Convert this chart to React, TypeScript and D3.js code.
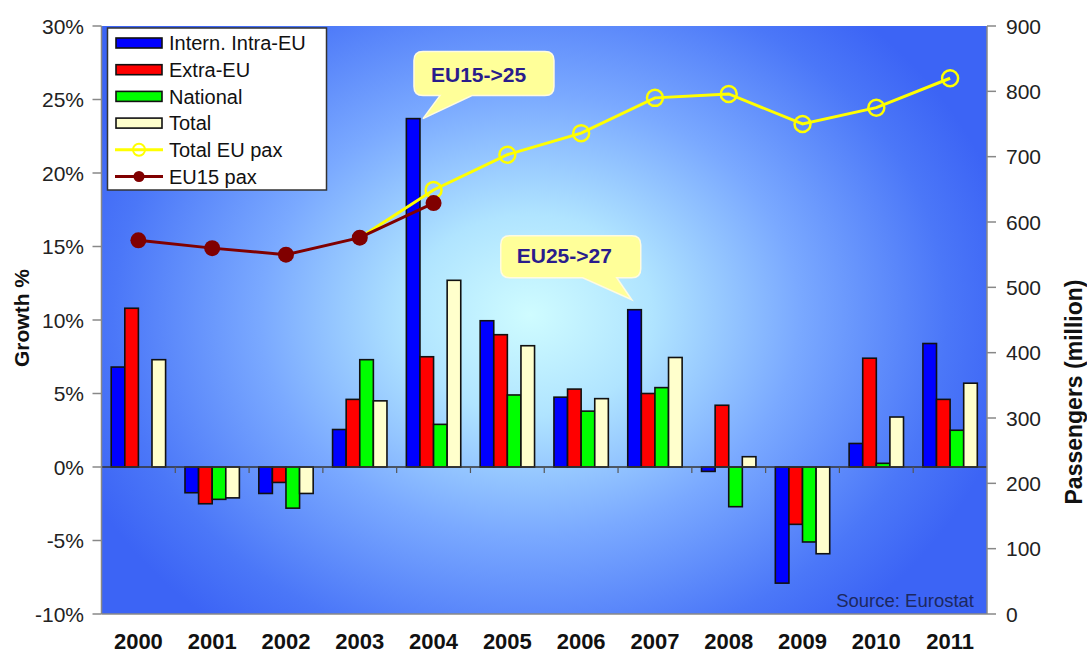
import * as d3 from 'd3';
import React from 'react';

const years = ['2000', '2001', '2002', '2003', '2004', '2005', '2006', '2007', '2008', '2009', '2010', '2011'];
const intraEU = [6.8, -1.75, -1.8, 2.55, 23.7, 9.95, 4.75, 10.7, -0.3, -7.9, 1.6, 8.4];
const extraEU = [10.8, -2.5, -1.05, 4.6, 7.5, 9.0, 5.3, 5.0, 4.2, -3.9, 7.4, 4.6];
const national = [NaN, -2.2, -2.8, 7.3, 2.9, 4.9, 3.8, 5.4, -2.7, -5.1, 0.25, 2.5];
const total = [7.3, -2.1, -1.8, 4.5, 12.7, 8.25, 4.65, 7.45, 0.7, -5.9, 3.4, 5.7];
const totalEuPax = [NaN, NaN, NaN, 576, 649, 703, 736, 790, 796, 750, 775, 820];
const eu15Pax = [572, 560, 550, 576, 629, NaN, NaN, NaN, NaN, NaN, NaN, NaN];
const growthTicks = [-10, -5, 0, 5, 10, 15, 20, 25, 30];
const paxTicks = [0, 100, 200, 300, 400, 500, 600, 700, 800, 900];

const barSeries = [
  { name: 'Intern. Intra-EU', values: intraEU, color: '#0000ff' },
  { name: 'Extra-EU', values: extraEU, color: '#ff0000' },
  { name: 'National', values: national, color: '#00ff00' },
  { name: 'Total', values: total, color: '#ffffcc' },
];

const W = 1087;
const H = 653;
const plot = { left: 101.5, right: 987, top: 26, bottom: 614 };
const FONT = 'Arial, "Liberation Sans", sans-serif';

function callout(tipX: number, tipY: number, left: number, top: number, w: number, h: number, b0: number, b1: number) {
  const r = 9;
  const x = tipX + left;
  const y = tipY + top;
  return `M${x + r},${y} H${x + w - r} Q${x + w},${y} ${x + w},${y + r} V${y + h - r} Q${x + w},${y + h} ${x + w - r},${y + h}
    H${x + b1} L${tipX},${tipY} L${x + b0},${y + h} H${x + r} Q${x},${y + h} ${x},${y + h - r} V${y + r} Q${x},${y} ${x + r},${y} Z`;
}

export default function App() {
  const x0 = d3
    .scaleBand<string>()
    .domain(years)
    .range([plot.left, plot.right])
    .paddingInner(0.263)
    .paddingOuter(0.1315);
  const x1 = d3
    .scaleBand<string>()
    .domain(barSeries.map((s) => s.name))
    .range([0, x0.bandwidth()]);
  const yL = d3.scaleLinear().domain([-10, 30]).range([plot.bottom, plot.top]);
  const yR = d3.scaleLinear().domain([0, 900]).range([plot.bottom, plot.top]);
  const step = x0.step();
  const cx = (y: string) => (x0(y) ?? 0) + x0.bandwidth() / 2;

  const line = d3
    .line<number>()
    .defined((d) => !isNaN(d))
    .x((_, i) => cx(years[i]))
    .y((d) => yR(d));

  const tip1 = { x: (x0('2004') ?? 0) + x1.bandwidth() + 3, y: yL(intraEU[4]) };
  const tip2 = { x: (x0('2007') ?? 0) + 4, y: yL(intraEU[7]) - 10 };

  const legendRows = [...barSeries.map((s) => s.name), 'Total EU pax', 'EU15 pax'];

  return (
    <svg width={W} height={H} style={{ position: 'absolute', left: 0, top: 0, background: '#fff' }} fontFamily={FONT}>
      <defs>
        <radialGradient
          id="bg"
          gradientUnits="userSpaceOnUse"
          cx={530}
          cy={315}
          r={490}
          gradientTransform="translate(530 315) scale(1 0.82) translate(-530 -315)"
        >
          <stop offset="0" stopColor="#cffcff" />
          <stop offset="0.25" stopColor="#b0e4ff" />
          <stop offset="0.55" stopColor="#7aa9ff" />
          <stop offset="0.85" stopColor="#4b77f8" />
          <stop offset="1" stopColor="#3c64f5" />
        </radialGradient>
      </defs>

      <rect x={plot.left} y={plot.top} width={plot.right - plot.left} height={plot.bottom - plot.top} fill="url(#bg)" />

      {/* bars */}
      {barSeries.map((s) => (
        <g key={s.name}>
          {s.values.map((v, i) =>
            isNaN(v) ? null : (
              <rect
                key={years[i]}
                x={(x0(years[i]) ?? 0) + (x1(s.name) ?? 0)}
                y={yL(Math.max(0, v))}
                width={x1.bandwidth()}
                height={Math.abs(yL(v) - yL(0))}
                fill={s.color}
                stroke="#111"
                strokeWidth={1.6}
              />
            )
          )}
        </g>
      ))}

      {/* zero line and category ticks */}
      <line x1={plot.left} x2={plot.right} y1={yL(0)} y2={yL(0)} stroke="#333" strokeWidth={1.5} />
      {years.slice(1).map((y) => (
        <line
          key={y}
          x1={(x0(y) ?? 0) - (step - x0.bandwidth()) / 2}
          x2={(x0(y) ?? 0) - (step - x0.bandwidth()) / 2}
          y1={yL(0)}
          y2={yL(0) + 6}
          stroke="#555"
          strokeWidth={1.2}
        />
      ))}

      {/* axes */}
      <line x1={plot.left} x2={plot.left} y1={plot.top} y2={plot.bottom} stroke="#888" strokeWidth={1.5} />
      <line x1={plot.right} x2={plot.right} y1={plot.top} y2={plot.bottom} stroke="#888" strokeWidth={1.5} />
      <line x1={plot.left} x2={plot.right} y1={plot.bottom} y2={plot.bottom} stroke="#888" strokeWidth={1.5} />
      {growthTicks.map((t) => (
        <g key={t}>
          <line x1={plot.left - 9} x2={plot.left} y1={yL(t)} y2={yL(t)} stroke="#888" strokeWidth={1.5} />
          <text x={84} y={yL(t)} dy="0.36em" textAnchor="end" fontSize={21} fill="#222">
            {t}%
          </text>
        </g>
      ))}
      {paxTicks.map((t) => (
        <g key={t}>
          <line x1={plot.right} x2={plot.right + 9} y1={yR(t)} y2={yR(t)} stroke="#888" strokeWidth={1.5} />
          <text x={1006} y={yR(t)} dy="0.36em" fontSize={21} fill="#222">
            {t}
          </text>
        </g>
      ))}
      {years.map((y) => (
        <text key={y} x={cx(y)} y={649} textAnchor="middle" fontSize={22} fontWeight="bold" fill="#111">
          {y}
        </text>
      ))}
      <text transform="translate(29,318) rotate(-90)" textAnchor="middle" fontSize={21} fontWeight="bold" fill="#111">
        Growth %
      </text>
      <text transform="translate(1082,392) rotate(-90)" textAnchor="middle" fontSize={23} fontWeight="bold" fill="#111">
        Passengers (million)
      </text>

      {/* lines */}
      <path d={line(totalEuPax) ?? ''} fill="none" stroke="#ffff00" strokeWidth={3} />
      {totalEuPax.map((v, i) =>
        isNaN(v) || v === eu15Pax[i] ? null : (
          <circle key={i} cx={cx(years[i])} cy={yR(v)} r={8} fill="none" stroke="#ffff00" strokeWidth={2.5} />
        )
      )}
      <path d={line(eu15Pax) ?? ''} fill="none" stroke="#800000" strokeWidth={3} />
      {eu15Pax.map((v, i) =>
        isNaN(v) ? null : <circle key={i} cx={cx(years[i])} cy={yR(v)} r={8} fill="#800000" />
      )}

      {/* callouts */}
      <path d={callout(tip1.x, tip1.y, -9, -67, 140, 44, 26, 58)} fill="#ffff99" stroke="#fffbe0" strokeWidth={1.5} />
      <text x={tip1.x + 8} y={tip1.y - 37} fontSize={21} fontWeight="bold" fill="#2a1c8c">
        EU15-&gt;25
      </text>
      <path d={callout(tip2.x, tip2.y, -131, -64, 140, 42, 82, 116)} fill="#ffff99" stroke="#fffbe0" strokeWidth={1.5} />
      <text x={tip2.x - 115} y={tip2.y - 37} fontSize={21} fontWeight="bold" fill="#2a1c8c">
        EU25-&gt;27
      </text>

      {/* legend */}
      <g>
        <rect x={107.5} y={28} width={219} height={162} fill="#fff" stroke="#333" strokeWidth={1.5} />
        {legendRows.map((name, i) => {
          const ry = 43 + i * 26.7;
          const s = barSeries[i];
          return (
            <g key={name}>
              {s ? (
                <rect x={116} y={ry - 5} width={46} height={10} fill={s.color} stroke="#111" strokeWidth={1.6} />
              ) : i === 4 ? (
                <g>
                  <line x1={115} x2={163} y1={ry} y2={ry} stroke="#ffff00" strokeWidth={3} />
                  <circle cx={139} cy={ry} r={6} fill="none" stroke="#ffff00" strokeWidth={2} />
                </g>
              ) : (
                <g>
                  <line x1={115} x2={163} y1={ry} y2={ry} stroke="#800000" strokeWidth={3} />
                  <circle cx={139} cy={ry} r={5.5} fill="#800000" />
                </g>
              )}
              <text x={169} y={ry} dy="0.36em" fontSize={20} fill="#111">
                {name}
              </text>
            </g>
          );
        })}
      </g>

      <text x={974} y={607} textAnchor="end" fontSize={18.5} fill="#1c2860">
        Source: Eurostat
      </text>
    </svg>
  );
}
